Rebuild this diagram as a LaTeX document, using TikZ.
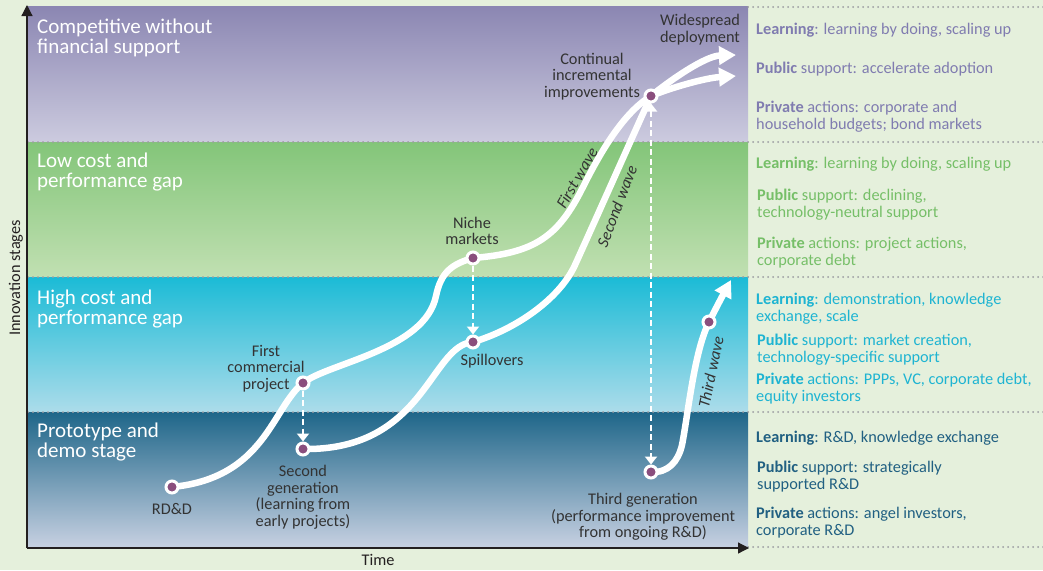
\documentclass[tikz,border=0pt]{standalone}
\usepackage{fontspec}
\setmainfont{Carlito}
\usetikzlibrary{arrows.meta,positioning}
\definecolor{pagegreen}{RGB}{229,240,220}
\definecolor{dotpurple}{RGB}{138,78,125}
\definecolor{labelgray}{RGB}{51,51,51}
\definecolor{axisblack}{RGB}{35,31,32}
\definecolor{sepgray}{RGB}{155,155,160}
\definecolor{comptop}{RGB}{139,134,178}
\definecolor{compbot}{RGB}{204,203,223}
\definecolor{lowtop}{RGB}{131,197,121}
\definecolor{lowbot}{RGB}{193,224,178}
\definecolor{hightop}{RGB}{27,187,214}
\definecolor{highbot}{RGB}{172,220,234}
\definecolor{prototop}{RGB}{30,102,137}
\definecolor{protobot}{RGB}{200,209,226}
\definecolor{comptext}{RGB}{128,124,176}
\definecolor{lowtext}{RGB}{118,191,104}
\definecolor{hightext}{RGB}{30,180,210}
\definecolor{prototext}{RGB}{33,96,130}
\pgfdeclarelayer{front}
\pgfsetlayers{main,front}

\begin{document}
\begin{tikzpicture}[
  x=1pt, y=-1pt,
  stage/.style={
    anchor=west,
    align=left,
    inner sep=0pt,
    text=white,
    font=\fontsize{21}{20.5}\selectfont
  },
  lbl/.style={
    align=center,
    inner sep=0pt,
    text=labelgray,
    font=\fontsize{16.3}{16.5}\selectfont
  },
  wavelbl/.style={inner sep=0pt, text=labelgray, font=\fontsize{16.3}{16.5}\selectfont\itshape},
  note/.style={
    anchor=west,
    align=left,
    inner sep=0pt,
    font=\fontsize{16.3}{16.5}\selectfont
  },
  stagedot/.style={circle, fill=dotpurple, draw=white, line width=3pt, minimum size=12pt, inner sep=0pt},
  waveline/.style={draw=white, line width=6.5pt, line cap=round, -{Triangle[length=17pt,width=18pt]}},
  dashlink/.style={draw=white, line width=2pt, dash pattern=on 6pt off 3.5pt},
  sepline/.style={draw=sepgray, line width=2pt, line cap=round, dash pattern=on 0pt off 5pt},
  axisline/.style={draw=axisblack, line width=1.2pt, -{Triangle[length=11pt,width=11pt]}}
]
\useasboundingbox (0,0) rectangle (1043,570);
\fill[pagegreen] (0,0) rectangle (1043,570);

\shade[top color=comptop, bottom color=compbot] (28,6) rectangle (748,142);
\shade[top color=lowtop, bottom color=lowbot] (28,142) rectangle (748,277);
\shade[top color=hightop, bottom color=highbot] (28,277) rectangle (748,412);
\shade[top color=prototop, bottom color=protobot] (28,412) rectangle (748,548);

\draw[sepline] (748,7) -- (1043,7);
\draw[sepline] (28,142) -- (1043,142);
\draw[sepline] (28,277) -- (1043,277);
\draw[sepline] (28,412) -- (1043,412);
\draw[sepline] (748,547) -- (1043,547);

\coordinate (origin) at (27,548);
\coordinate (ytop) at (27,5);
\coordinate (xend) at (749,548);
\draw[axisline] (origin) -- (ytop);
\draw[axisline] (origin) -- (xend);
\node[lbl, text=axisblack, rotate=90] (ylbl) at (16,278) {Innovation stages};
\node[lbl, text=axisblack] (xlbl) at (378,560) {Time};

\node[stage] (comp) at (37,38) {Competitive without\\financial support};
\node[stage] (low) at (37,172) {Low cost and\\performance gap};
\node[stage] (high) at (37,309) {High cost and\\performance gap};
\node[stage] (proto) at (37,442) {Prototype and\\demo stage};

\node[note, text=comptext] (complearn) at (756,30.5) {\textbf{Learning}: learning by doing, scaling up};
\node[note, text=comptext] (comppub) at (756,69.5) {\textbf{Public} support: accelerate adoption};
\node[note, text=comptext] (comppriv) at (756,116.5) {\textbf{Private} actions: corporate and\\household budgets; bond markets};
\node[note, text=lowtext] (lowlearn) at (756,164.5) {\textbf{Learning}: learning by doing, scaling up};
\node[note, text=lowtext] (lowpub) at (757,204.5) {\textbf{Public} support: declining,\\technology-neutral support};
\node[note, text=lowtext] (lowpriv) at (757,252.5) {\textbf{Private} actions: project actions,\\corporate debt};
\node[note, text=hightext] (highlearn) at (756,308.5) {\textbf{Learning}: demonstration, knowledge\\exchange, scale};
\node[note, text=hightext] (highpub) at (757,349.5) {\textbf{Public} support: market creation,\\technology-specific support};
\node[note, text=hightext] (highpriv) at (756,388.5) {\textbf{Private} actions: PPPs, VC, corporate debt,\\equity investors};
\node[note, text=prototext] (protolearn) at (756,438.5) {\textbf{Learning}: R\&D, knowledge exchange};
\node[note, text=prototext] (protopub) at (757,476.5) {\textbf{Public} support: strategically\\supported R\&D};
\node[note, text=prototext] (protopriv) at (756,522.5) {\textbf{Private} actions: angel investors,\\corporate R\&D};

\begin{pgfonlayer}{front}
\node[stagedot] (rdd) at (172,487) {};
\node[stagedot] (fcp) at (303,383) {};
\node[stagedot] (sg) at (303,449) {};
\node[stagedot] (niche) at (473,258) {};
\node[stagedot] (spill) at (473,342) {};
\node[stagedot] (cont) at (651,96) {};
\node[stagedot] (tg) at (651,472) {};
\node[stagedot] (tw) at (709,322) {};
\end{pgfonlayer}
\coordinate (tip1) at (736,55);
\coordinate (tip2) at (736,76);
\coordinate (tip3) at (731,280);

\draw[waveline] (rdd.center) .. controls (265,478) and (272,408) .. (fcp.center)
  .. controls (328,363) and (425,350) .. (436,296)
  .. controls (441,272) and (452,264) .. (niche.center)
  .. controls (535,253) and (558,237) .. (583,187)
  .. controls (603,147) and (625,112) .. (cont.center)
  .. controls (669,81) and (705,56) .. (tip1);
\draw[waveline] (sg.center) .. controls (425,451) and (430,345) .. (spill.center)
  .. controls (517,329) and (560,298) .. (575,265)
  .. controls (595,221) and (639,122) .. (cont.center)
  .. controls (670,88) and (705,78) .. (tip2);
\draw[waveline] (tg.center) .. controls (668,473) and (678,462) .. (682,445)
  .. controls (688,415) and (694,352) .. (tw.center)
  .. controls (717,306) and (724,293) .. (tip3);

\draw[dashlink, -{Triangle[length=8pt,width=12pt]}] (fcp) -- (sg);
\draw[dashlink, -{Triangle[length=8pt,width=12pt]}] (niche) -- (spill);
\draw[dashlink, {Triangle[length=8pt,width=12pt]}-{Triangle[length=8pt,width=12pt]}] (cont) -- (tg);

\node[lbl] (rddlbl) at (172,508.5) {RD\&D};
\node[lbl] (fcplbl) at (266,368.5) {First\\commercial\\project};
\node[lbl] (sglbl) at (303,497) {Second\\generation\\(learning from\\early projects)};
\node[lbl] (nichelbl) at (472,231) {Niche\\markets};
\node[lbl] (spilllbl) at (492,361) {Spillovers};
\node[lbl] (contlbl) at (592,76.5) {Continual\\incremental\\improvements};
\node[lbl] (widelbl) at (700,29.5) {Widespread\\deployment};
\node[lbl] (tglbl) at (643,517) {Third generation\\(performance improvement\\from ongoing R\&D)};
\node[wavelbl, rotate=60] (firstw) at (577,178) {First wave};
\node[wavelbl, rotate=69] (secondw) at (617,206) {Second wave};
\node[wavelbl, rotate=78] (thirdw) at (711,372) {Third wave};
\end{tikzpicture}
\end{document}
